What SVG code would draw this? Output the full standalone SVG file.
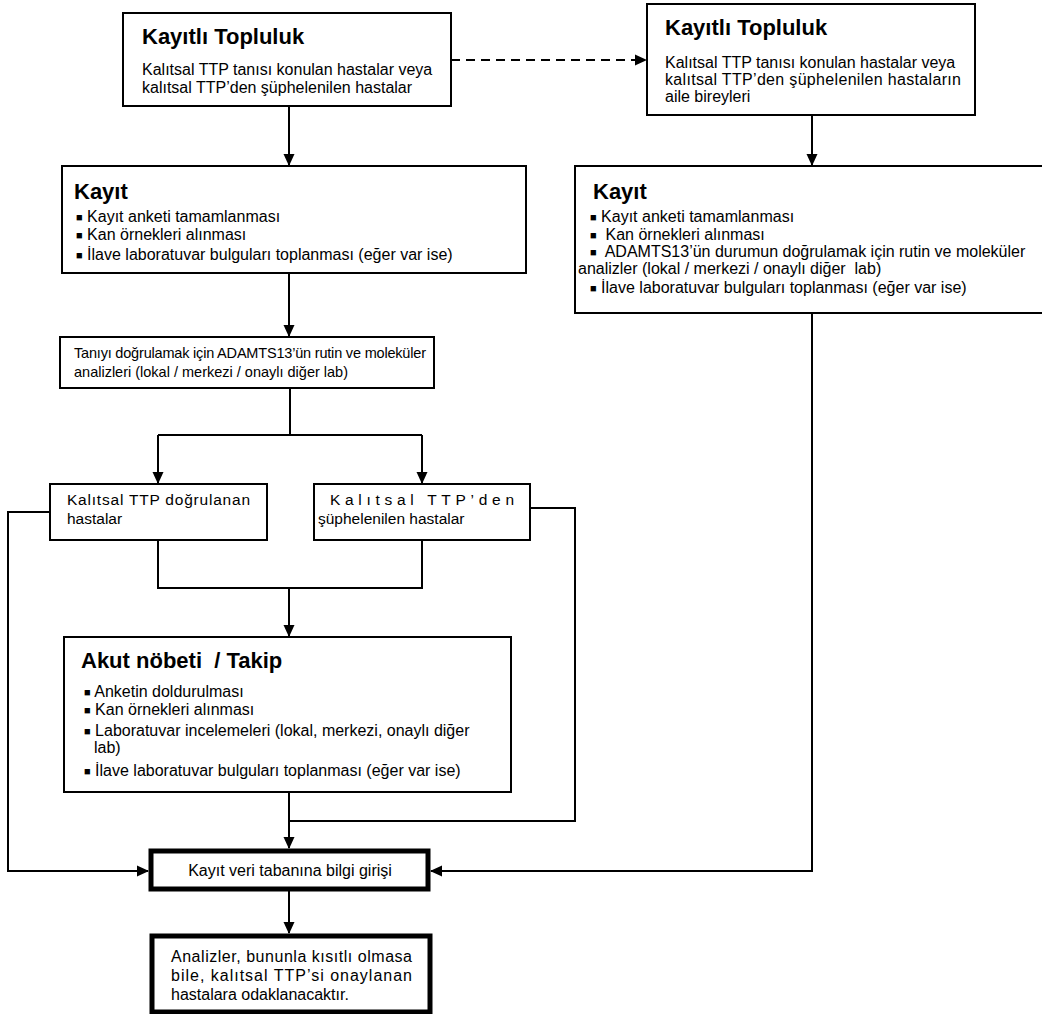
<svg xmlns="http://www.w3.org/2000/svg" width="1042" height="1014" viewBox="0 0 1042 1014">
<defs>
<style>
.box{fill:#fff;stroke:#000;stroke-width:2}
.thick{fill:#fff;stroke:#000;stroke-width:5}
text{white-space:pre}
.t{font-family:"Liberation Sans",Arial,sans-serif;font-size:16px;fill:#000}
.s{font-family:"Liberation Sans",Arial,sans-serif;font-size:15.5px;fill:#000}
.x{font-family:"Liberation Sans",Arial,sans-serif;font-size:14.5px;fill:#000}
.h{font-family:"Liberation Sans",Arial,sans-serif;font-size:22px;font-weight:bold;fill:#000}
.b{font-size:11px}
.c{fill:none;stroke:#000;stroke-width:2}
.d{fill:none;stroke:#000;stroke-width:2;stroke-dasharray:9 6}
</style>
<marker id="ah" markerWidth="12" markerHeight="12" refX="11" refY="6" orient="auto" markerUnits="userSpaceOnUse">
<path d="M0,0.5 L12,6 L0,11.5 Z" fill="#000"/>
</marker>
</defs>
<rect width="1042" height="1014" fill="#fff"/>
<g id="connectors">
<line class="d" x1="451" y1="60" x2="646" y2="60" marker-end="url(#ah)"/>
<line class="c" x1="289" y1="106" x2="289" y2="165" marker-end="url(#ah)"/>
<line class="c" x1="812" y1="115" x2="812" y2="165" marker-end="url(#ah)"/>
<line class="c" x1="289" y1="273" x2="289" y2="336" marker-end="url(#ah)"/>
<polyline class="c" points="290,388 290,435"/>
<polyline class="c" points="158,435 422,435"/>
<line class="c" x1="158" y1="435" x2="158" y2="483" marker-end="url(#ah)"/>
<line class="c" x1="422" y1="435" x2="422" y2="483" marker-end="url(#ah)"/>
<polyline class="c" points="158,540 158,588 422,588 422,540"/>
<line class="c" x1="289" y1="588" x2="289" y2="636" marker-end="url(#ah)"/>
<polyline class="c" points="50,512 8,512 8,871 148,871" marker-end="url(#ah)"/>
<polyline class="c" points="530,508 575,508 575,821 289,821"/>
<line class="c" x1="289" y1="792" x2="289" y2="848" marker-end="url(#ah)"/>
<polyline class="c" points="812,313 812,871 431,871" marker-end="url(#ah)"/>
<line class="c" x1="289" y1="889" x2="289" y2="933" marker-end="url(#ah)"/>
</g>
<g id="n1">
<rect class="box" x="123" y="13" width="328" height="93"/>
<text class="h" x="142" y="44">Kayıtlı Topluluk</text>
<text class="t" x="142" y="75">Kalıtsal TTP tanısı konulan hastalar veya</text>
<text class="t" x="142" y="93">kalıtsal TTP’den şüphelenilen hastalar</text>
</g>
<g id="n2">
<rect class="box" x="647" y="4" width="328" height="111"/>
<text class="h" x="665" y="35">Kayıtlı Topluluk</text>
<text class="t" x="665" y="68">Kalıtsal TTP tanısı konulan hastalar veya</text>
<text class="t" x="665" y="85" textLength="296" lengthAdjust="spacing">kalıtsal TTP’den şüphelenilen hastaların</text>
<text class="t" x="665" y="102">aile bireyleri</text>
</g>
<g id="n3">
<rect class="box" x="62" y="166" width="464" height="107"/>
<text class="h" x="74" y="199">Kayıt</text>
<text class="t" x="76" y="222"><tspan class="b" dy="-1.5">■</tspan><tspan dy="1.5"> Kayıt anketi tamamlanması</tspan></text>
<text class="t" x="76" y="240"><tspan class="b" dy="-1.5">■</tspan><tspan dy="1.5"> Kan örnekleri alınması</tspan></text>
<text class="t" x="76" y="260"><tspan class="b" dy="-1.5">■</tspan><tspan dy="1.5"> İlave laboratuvar bulguları toplanması (eğer var ise)</tspan></text>
</g>
<g id="n4">
<rect class="box" x="575" y="166" width="480" height="147"/>
<text class="h" x="593" y="199">Kayıt</text>
<text class="t" x="590" y="222"><tspan class="b" dy="-1.5">■</tspan><tspan dy="1.5"> Kayıt anketi tamamlanması</tspan></text>
<text class="t" x="590" y="240"><tspan class="b" dy="-1.5">■</tspan><tspan dy="1.5">  Kan örnekleri alınması</tspan></text>
<text class="t" x="590" y="257"><tspan class="b" dy="-1.5">■</tspan><tspan dy="1.5">  ADAMTS13’ün durumun doğrulamak için rutin ve moleküler</tspan></text>
<text class="t" x="578" y="274">analizler (lokal / merkezi / onaylı diğer  lab)</text>
<text class="t" x="590" y="293"><tspan class="b" dy="-1.5">■</tspan><tspan dy="1.5"> İlave laboratuvar bulguları toplanması (eğer var ise)</tspan></text>
</g>
<g id="n5">
<rect class="box" x="60" y="337" width="374" height="51"/>
<text class="x" x="74" y="358" textLength="352" lengthAdjust="spacing">Tanıyı doğrulamak için ADAMTS13’ün rutin ve moleküler</text>
<text class="x" x="74" y="377">analizleri (lokal / merkezi / onaylı diğer lab)</text>
</g>
<g id="n6">
<rect class="box" x="50" y="484" width="217" height="56"/>
<text class="s" x="67" y="505" textLength="183" lengthAdjust="spacing">Kalıtsal TTP doğrulanan</text>
<text class="s" x="67" y="524">hastalar</text>
</g>
<g id="n7">
<rect class="box" x="314" y="484" width="216" height="56"/>
<text class="s" x="330" y="505" textLength="184" lengthAdjust="spacing">Kalıtsal TTP’den</text>
<text class="s" x="318" y="524">şüphelenilen hastalar</text>
</g>
<g id="n8">
<rect class="box" x="64" y="637" width="447" height="155"/>
<text class="h" x="81" y="668">Akut nöbeti  / Takip</text>
<text class="t" x="84" y="697"><tspan class="b" dy="-1.5">■</tspan><tspan dy="1.5"> Anketin doldurulması</tspan></text>
<text class="t" x="84" y="715"><tspan class="b" dy="-1.5">■</tspan><tspan dy="1.5"> Kan örnekleri alınması</tspan></text>
<text class="t" x="84" y="736"><tspan class="b" dy="-1.5">■</tspan><tspan dy="1.5"> Laboratuvar incelemeleri (lokal, merkezi, onaylı diğer</tspan></text>
<text class="t" x="94" y="753">lab)</text>
<text class="t" x="84" y="776"><tspan class="b" dy="-1.5">■</tspan><tspan dy="1.5"> İlave laboratuvar bulguları toplanması (eğer var ise)</tspan></text>
</g>
<g id="n9">
<rect class="thick" x="151" y="851" width="277" height="38"/>
<text class="t" x="290" y="876" text-anchor="middle">Kayıt veri tabanına bilgi girişi</text>
</g>
<g id="n10">
<rect class="thick" x="152" y="936" width="278" height="76"/>
<text class="t" x="171" y="962" textLength="241" lengthAdjust="spacing">Analizler, bununla kısıtlı olmasa</text>
<text class="t" x="171" y="981" textLength="241" lengthAdjust="spacing">bile, kalıtsal TTP’si onaylanan</text>
<text class="t" x="171" y="1000">hastalara odaklanacaktır.</text>
</g>
</svg>
